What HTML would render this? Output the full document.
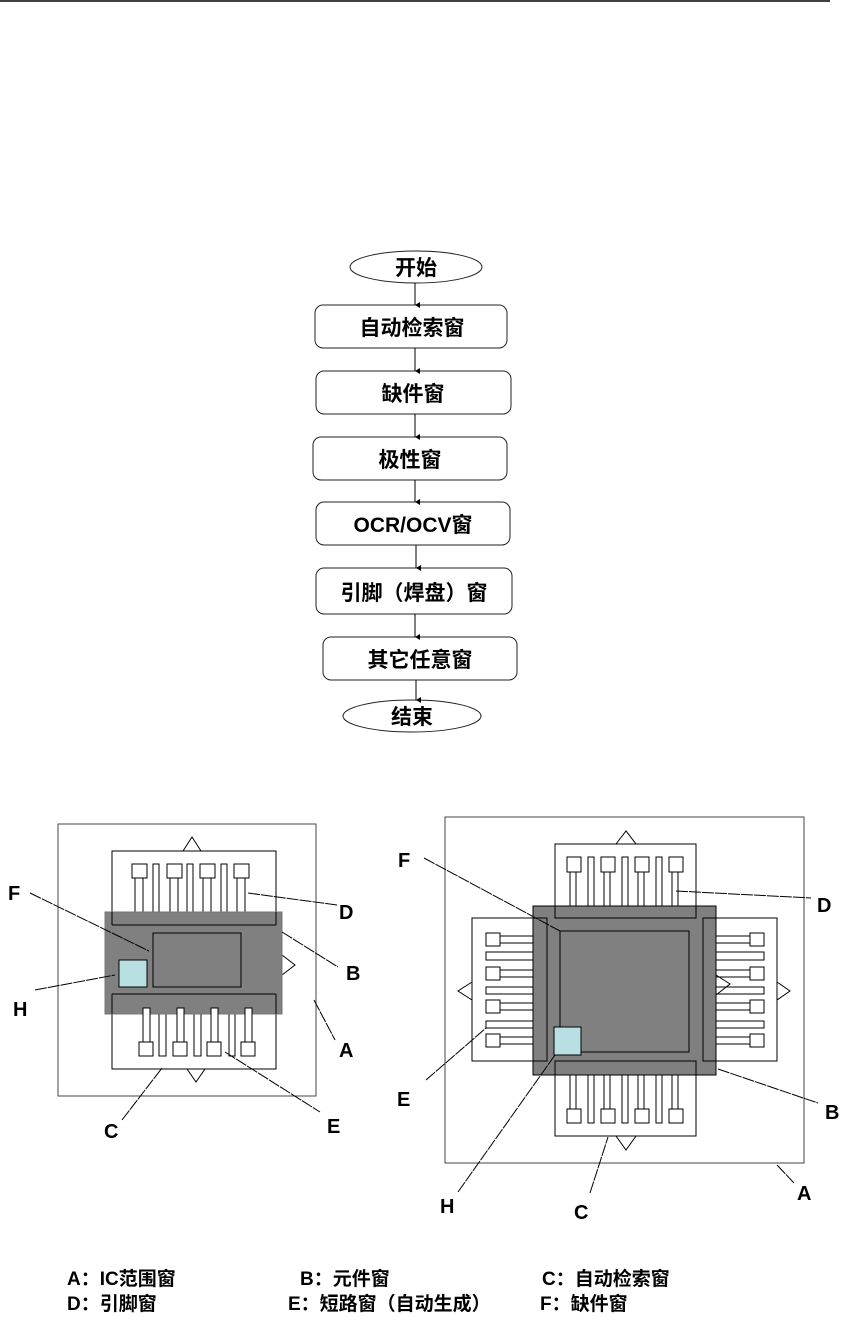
<!DOCTYPE html>
<html><head><meta charset="utf-8"><style>
html,body{margin:0;padding:0;background:#fff}
svg{display:block}
text{font-family:"Liberation Sans","Noto Sans CJK SC",sans-serif;font-weight:bold;fill:#000}
</style></head><body>
<svg width="847" height="1322" viewBox="0 0 847 1322" xmlns="http://www.w3.org/2000/svg">
<line x1="0" y1="1" x2="830" y2="1" stroke="#000" stroke-width="1.5"/>
<defs><marker id="ar" markerWidth="8" markerHeight="8" refX="4" refY="7" orient="auto" markerUnits="userSpaceOnUse"><path d="M1,2 L4,7 L7,2" fill="#000"/></marker></defs>
<g fill="#fff" stroke="#222" stroke-width="1">
<ellipse cx="416" cy="267" rx="66" ry="16"/>
<rect x="315" y="305" width="192" height="43" rx="8"/>
<rect x="316" y="371" width="195" height="43" rx="8"/>
<rect x="313" y="437" width="194" height="43" rx="8"/>
<rect x="316" y="502" width="194" height="43" rx="8"/>
<rect x="316" y="568" width="196" height="46" rx="8"/>
<rect x="323" y="637" width="194" height="43" rx="8"/>
<ellipse cx="412" cy="716" rx="69" ry="16"/>
</g>
<g stroke="#000" stroke-width="1" marker-end="url(#ar)">
<line x1="415" y1="283" x2="415" y2="305"/>
<line x1="415" y1="348" x2="415" y2="371"/>
<line x1="415" y1="414" x2="415" y2="437"/>
<line x1="415" y1="480" x2="415" y2="502"/>
<line x1="416" y1="545" x2="416" y2="568"/>
<line x1="415" y1="614" x2="415" y2="637"/>
<line x1="416" y1="680" x2="416" y2="700"/>
</g>
<g font-size="21" text-anchor="middle">
<text x="416" y="275">开始</text>
<text x="412" y="335">自动检索窗</text>
<text x="413" y="401">缺件窗</text>
<text x="410" y="467">极性窗</text>
<text x="413" y="532">OCR/OCV窗</text>
<text x="414" y="600">引脚（焊盘）窗</text>
<text x="420" y="667">其它任意窗</text>
<text x="412" y="724">结束</text>
</g>

<g stroke="#000" stroke-width="1" fill="#fff">
<rect x="58" y="824" width="258" height="272" stroke="#444"/>
<polygon points="183,851 192,837 201,851"/>
<polygon points="187,1069 196,1082 205,1069"/>
<polygon points="282,955 295,965 282,975"/>
<rect x="112" y="851" width="164" height="74"/>
<rect x="112" y="994" width="164" height="75"/>
<rect x="132" y="864" width="15" height="14"/><rect x="167" y="864" width="15" height="14"/><rect x="200" y="864" width="15" height="14"/><rect x="234" y="864" width="15" height="14"/>
<rect x="135" y="878" width="8" height="34"/><rect x="170" y="878" width="8" height="34"/><rect x="203" y="878" width="8" height="34"/><rect x="237" y="878" width="8" height="34"/>
<rect x="153" y="864" width="6" height="48"/><rect x="187" y="864" width="6" height="48"/><rect x="221" y="864" width="6" height="48"/>
<rect x="139" y="1042" width="14" height="14"/><rect x="173" y="1042" width="14" height="14"/><rect x="207" y="1042" width="14" height="14"/><rect x="241" y="1042" width="14" height="14"/>
<rect x="159" y="1014" width="7" height="42"/><rect x="194" y="1014" width="7" height="42"/><rect x="229" y="1014" width="6" height="42"/>
<rect x="105" y="912" width="177" height="102" fill="#808080" stroke="#777"/>
<line x1="112" y1="925" x2="276" y2="925"/><line x1="112" y1="912" x2="112" y2="925"/><line x1="276" y1="912" x2="276" y2="925"/>
<line x1="112" y1="994" x2="276" y2="994"/><line x1="112" y1="994" x2="112" y2="1014"/><line x1="276" y1="994" x2="276" y2="1014"/>
<rect x="143" y="1008" width="7" height="34"/><rect x="177" y="1008" width="7" height="34"/><rect x="211" y="1008" width="7" height="34"/><rect x="245" y="1008" width="7" height="34"/>
<rect x="153" y="933" width="88" height="54" fill="none"/>
<rect x="119" y="960" width="28" height="27" fill="#b8e0e3"/>
</g>

<g stroke="#000" stroke-width="1" fill="#fff">
<rect x="445" y="817" width="359" height="346" stroke="#444"/>
<polygon points="616,844 626,831 636,844"/>
<polygon points="616,1136 626,1150 636,1136"/>
<polygon points="472,982 458,991 472,1000"/>
<polygon points="777,982 790,991 777,1000"/>
<rect x="555" y="844" width="141" height="74"/>
<rect x="555" y="1061" width="141" height="75"/>
<rect x="472" y="918" width="75" height="143"/>
<rect x="703" y="918" width="74" height="143"/>
<rect x="567" y="857" width="14" height="15"/><rect x="601" y="857" width="14" height="15"/><rect x="635" y="857" width="14" height="15"/><rect x="669" y="857" width="14" height="15"/>
<rect x="570" y="872" width="6" height="34"/><rect x="604" y="872" width="6" height="34"/><rect x="638" y="872" width="6" height="34"/><rect x="672" y="872" width="6" height="34"/>
<rect x="588" y="857" width="6" height="49"/><rect x="622" y="857" width="6" height="49"/><rect x="656" y="857" width="6" height="49"/>
<rect x="567" y="1109" width="14" height="14"/><rect x="601" y="1109" width="14" height="14"/><rect x="635" y="1109" width="14" height="14"/><rect x="669" y="1109" width="14" height="14"/>
<rect x="570" y="1075" width="6" height="34"/><rect x="604" y="1075" width="6" height="34"/><rect x="638" y="1075" width="6" height="34"/><rect x="672" y="1075" width="6" height="34"/>
<rect x="588" y="1075" width="6" height="48"/><rect x="622" y="1075" width="6" height="48"/><rect x="656" y="1075" width="6" height="48"/>
<rect x="486" y="933" width="14" height="13"/><rect x="486" y="967" width="14" height="13"/><rect x="486" y="1000" width="14" height="13"/><rect x="486" y="1034" width="14" height="13"/>
<rect x="500" y="936" width="33" height="7"/><rect x="500" y="970" width="33" height="7"/><rect x="500" y="1003" width="33" height="7"/><rect x="500" y="1037" width="33" height="7"/>
<rect x="486" y="952" width="47" height="8"/><rect x="486" y="987" width="47" height="7"/><rect x="486" y="1021" width="47" height="7"/>
<rect x="750" y="933" width="14" height="13"/><rect x="750" y="967" width="14" height="13"/><rect x="750" y="1000" width="14" height="13"/><rect x="750" y="1034" width="14" height="13"/>
<rect x="716" y="936" width="34" height="7"/><rect x="716" y="970" width="34" height="7"/><rect x="716" y="1003" width="34" height="7"/><rect x="716" y="1037" width="34" height="7"/>
<rect x="716" y="952" width="48" height="8"/><rect x="716" y="987" width="48" height="7"/><rect x="716" y="1021" width="48" height="7"/>
<rect x="533" y="906" width="183" height="169" fill="#808080"/>
<rect x="555" y="906" width="141" height="12" fill="none"/>
<rect x="555" y="1061" width="141" height="14" fill="none"/>
<rect x="533" y="918" width="14" height="143" fill="none"/>
<rect x="703" y="918" width="13" height="143" fill="none"/>
<polyline points="716,975 730,984 716,995" fill="none"/>
<rect x="560" y="931" width="129" height="121" fill="none"/>
<rect x="554" y="1027" width="27" height="28" fill="#b8e0e3"/>
</g>

<g stroke="#000" stroke-width="1" stroke-dasharray="12,1" fill="none">
<line x1="30" y1="893" x2="149" y2="951"/>
<line x1="35" y1="990" x2="115" y2="975"/>
<line x1="248" y1="893" x2="337" y2="905"/>
<line x1="282" y1="932" x2="338" y2="967"/>
<line x1="314" y1="1000" x2="335" y2="1040"/>
<line x1="122" y1="1120" x2="162" y2="1068"/>
<line x1="225" y1="1052" x2="320" y2="1112"/>
<line x1="424" y1="858" x2="560" y2="931"/>
<line x1="676" y1="891" x2="811" y2="898"/>
<line x1="426" y1="1080" x2="486" y2="1028"/>
<line x1="718" y1="1069" x2="818" y2="1103"/>
<line x1="458" y1="1192" x2="555" y2="1055"/>
<line x1="590" y1="1193" x2="608" y2="1137"/>
<line x1="777" y1="1165" x2="794" y2="1183"/>
</g>
<g font-size="20">
<text x="8" y="900">F</text>
<text x="13" y="1016">H</text>
<text x="339" y="919">D</text>
<text x="346" y="980">B</text>
<text x="339" y="1057">A</text>
<text x="104" y="1138">C</text>
<text x="327" y="1133">E</text>
<text x="398" y="867">F</text>
<text x="817" y="912">D</text>
<text x="397" y="1106">E</text>
<text x="825" y="1119">B</text>
<text x="440" y="1213">H</text>
<text x="574" y="1219">C</text>
<text x="797" y="1200">A</text>
</g>
<g font-size="19">
<text x="67" y="1285">A：IC范围窗</text>
<text x="300" y="1285">B：元件窗</text>
<text x="542" y="1285">C：自动检索窗</text>
<text x="67" y="1310">D：引脚窗</text>
<text x="288" y="1310">E：短路窗（自动生成）</text>
<text x="540" y="1310">F：缺件窗</text>
</g>
</svg>
</body></html>
